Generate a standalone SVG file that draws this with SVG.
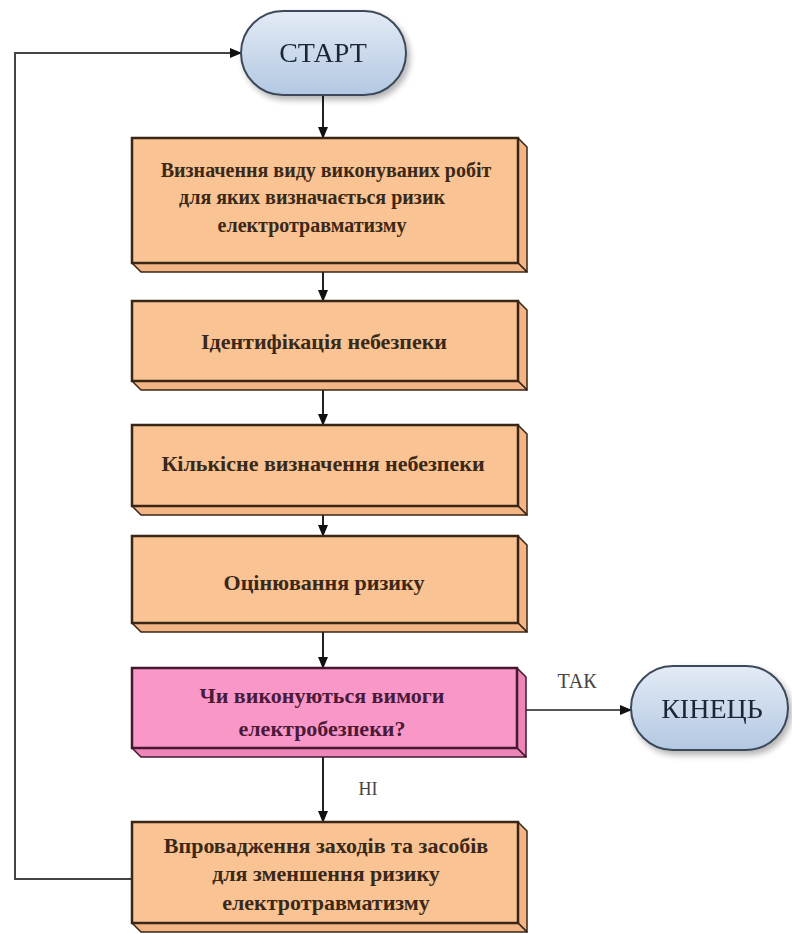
<svg xmlns="http://www.w3.org/2000/svg" width="792" height="934" viewBox="0 0 792 934">
<defs>
<linearGradient id="pill" x1="0" y1="0" x2="0" y2="1">
<stop offset="0" stop-color="#e3ebf6"/>
<stop offset="1" stop-color="#b3c8e2"/>
</linearGradient>
<marker id="arr" markerWidth="12" markerHeight="12" refX="11" refY="6" orient="auto" markerUnits="userSpaceOnUse">
<path d="M0,1 L12,6 L0,11 Z" fill="#111"/>
</marker>
<filter id="sh" x="-10%" y="-10%" width="130%" height="130%">
<feGaussianBlur in="SourceAlpha" stdDeviation="3"/>
<feOffset dx="3" dy="4"/>
<feComponentTransfer><feFuncA type="linear" slope="0.3"/></feComponentTransfer>
<feMerge><feMergeNode/><feMergeNode in="SourceGraphic"/></feMerge>
</filter>
</defs>
<style>
.front{fill:#f9c393;stroke:#3a2616;stroke-width:2.5}
.side{fill:#f3b585;stroke:#3a2616;stroke-width:1.5;stroke-linejoin:round}
.pfront{fill:#f997c8;stroke:#44182f;stroke-width:2.5}
.pside{fill:#ee85b8;stroke:#44182f;stroke-width:1.5;stroke-linejoin:round}
.pillr{fill:url(#pill);stroke:#3d4a5a;stroke-width:2}
.t{font-family:"Liberation Serif","DejaVu Serif",serif;font-size:22px;font-weight:bold;fill:#3a2818;text-anchor:middle}
.s1{font-size:20px}
.tp{fill:#4a1a38}
.tpill{font-family:"Liberation Serif","DejaVu Serif",serif;font-size:28px;fill:#1e2838;text-anchor:middle}
.lbl{font-family:"Liberation Serif","DejaVu Serif",serif;font-size:20px;fill:#444;text-anchor:middle}
.c{fill:none;stroke:#222;stroke-width:2}
</style>
<rect width="792" height="934" fill="#fff"/>

<g id="connectors">
<line class="c" x1="323" y1="95" x2="323" y2="138" marker-end="url(#arr)"/>
<line class="c" x1="323" y1="272" x2="323" y2="301" marker-end="url(#arr)"/>
<line class="c" x1="323" y1="390" x2="323" y2="425" marker-end="url(#arr)"/>
<line class="c" x1="323" y1="515" x2="323" y2="536" marker-end="url(#arr)"/>
<line class="c" x1="323" y1="632" x2="323" y2="668" marker-end="url(#arr)"/>
<line class="c" x1="323" y1="757" x2="323" y2="822" marker-end="url(#arr)"/>
<line class="c" x1="526" y1="710" x2="631" y2="710" marker-end="url(#arr)" style="stroke:#555"/>
<polyline class="c" points="131,879 15,879 15,53 241,53" marker-end="url(#arr)" style="stroke:#444"/>
<text class="lbl" x="577" y="688">ТАК</text>
<text class="lbl" x="368" y="795" style="font-size:18px">НІ</text>
</g>

<g id="start" filter="url(#sh)">
<rect class="pillr" x="241" y="11" width="165" height="84" rx="42"/>
<text class="tpill" x="323" y="62">СТАРТ</text>
</g>

<g id="end" filter="url(#sh)">
<rect class="pillr" x="631" y="666" width="157" height="84" rx="42"/>
<text class="tpill" x="712" y="718">КІНЕЦЬ</text>
</g>

<g id="step1">
<polygon class="side" points="518,138 527,147 527,272 518,263"/>
<polygon class="side" points="132,263 141,272 527,272 518,263"/>
<rect class="front" x="132" y="138" width="386" height="125"/>
<text class="t s1" x="326" y="177">Визначення виду виконуваних робіт</text>
<text class="t s1" x="312" y="204">для яких визначається ризик</text>
<text class="t s1" x="312" y="232">електротравматизму</text>
</g>

<g id="step2">
<polygon class="side" points="518,301 527,310 527,390 518,381"/>
<polygon class="side" points="132,381 141,390 527,390 518,381"/>
<rect class="front" x="132" y="301" width="386" height="80"/>
<text class="t" x="324" y="349">Ідентифікація небезпеки</text>
</g>

<g id="step3">
<polygon class="side" points="518,425 527,434 527,515 518,506"/>
<polygon class="side" points="132,506 141,515 527,515 518,506"/>
<rect class="front" x="132" y="425" width="386" height="81"/>
<text class="t" x="323" y="471">Кількісне визначення небезпеки</text>
</g>

<g id="step4">
<polygon class="side" points="518,536 527,545 527,632 518,623"/>
<polygon class="side" points="132,623 141,632 527,632 518,623"/>
<rect class="front" x="132" y="536" width="386" height="87"/>
<text class="t" x="324" y="590">Оцінювання ризику</text>
</g>

<g id="decision">
<polygon class="pside" points="517,668 526,677 526,757 517,748"/>
<polygon class="pside" points="132,748 141,757 526,757 517,748"/>
<rect class="pfront" x="132" y="668" width="385" height="80"/>
<text class="t tp" x="322" y="703">Чи виконуються вимоги</text>
<text class="t tp" x="322" y="736">електробезпеки?</text>
</g>

<g id="step5">
<polygon class="side" points="518,822 527,831 527,932 518,923"/>
<polygon class="side" points="132,923 141,932 527,932 518,923"/>
<rect class="front" x="132" y="822" width="386" height="101"/>
<text class="t" x="326" y="853">Впровадження заходів та засобів</text>
<text class="t" x="326" y="881">для зменшення ризику</text>
<text class="t" x="326" y="910">електротравматизму</text>
</g>
</svg>
